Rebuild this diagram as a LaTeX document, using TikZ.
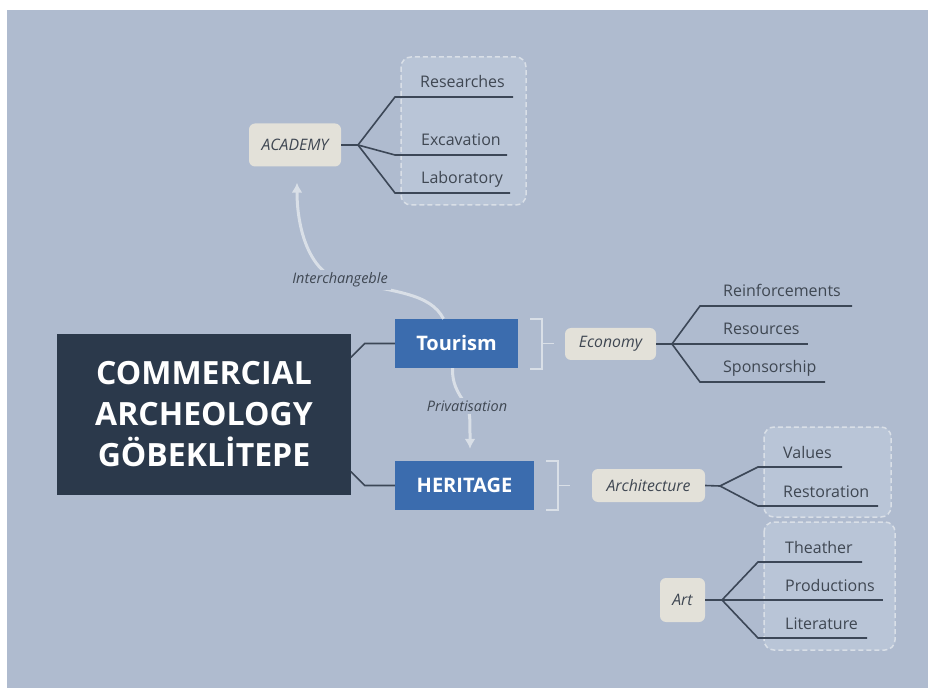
\documentclass[tikz,border=0pt]{standalone}
\usepackage{fontspec}
\setmainfont{Open Sans}
\usetikzlibrary{arrows.meta}
\definecolor{bgblue}{HTML}{AFBBCF}
\definecolor{navy}{HTML}{2B394B}
\definecolor{topicblue}{HTML}{3B6CAE}
\definecolor{sand}{HTML}{E3E1D9}
\definecolor{groupfill}{HTML}{B9C5D7}
\definecolor{paleline}{HTML}{D9DFE7}
\definecolor{inkline}{HTML}{3C4757}
\definecolor{inktext}{HTML}{3F4752}
\begin{document}
\begin{tikzpicture}[x=1pt,y=-1pt,>={Latex[length=10pt,width=11pt]},
  central/.style={fill=navy,text=white,font=\fontsize{32}{41}\selectfont\bfseries,align=center,minimum width=294pt,minimum height=161pt,inner sep=0pt},
  topic/.style={fill=topicblue,text=white,font=\fontsize{20}{22}\selectfont\bfseries,minimum height=49pt,inner sep=0pt},
  sub/.style={fill=sand,rounded corners=6pt,text=inktext,font=\fontsize{15.8}{18}\selectfont\itshape,inner sep=0pt},
  leaf/.style={anchor=base west,text=inktext,font=\fontsize{16}{18}\selectfont,inner sep=0pt},
  link/.style={draw=inkline,line width=1.6pt},
  brace/.style={draw=paleline,line width=1.5pt},
  flow/.style={draw=paleline,line width=3pt,->},
  group/.style={draw=paleline,dash pattern=on 5pt off 3pt,line width=1.5pt,fill=groupfill,rounded corners=10pt},
  note/.style={fill=bgblue,text=inktext,font=\fontsize{14.5}{16}\selectfont\itshape,inner sep=3pt}]
\fill[white] (0,0) rectangle (938,695);
\fill[bgblue] (7,10) rectangle (928,688);
\useasboundingbox (0,0) rectangle (938,695);

% dashed groups
\draw[group] (401,57) rectangle (526,205);
\draw[group] (764,427) rectangle (891,517);
\draw[group] (764,522) rectangle (895,650);

% centre and main topics
\node[central] (core) at (204,414.5) {COMMERCIAL\\ARCHEOLOGY\\GÖBEKLİTEPE};
\node[topic,minimum width=123pt] (tourism) at (456.5,343.5) {Tourism};
\node[topic,minimum width=139pt] (heritage) at (464.5,485.5) {HERITAGE};
\draw[link] (tourism.west) -- ++(-30,0) -- ++(-14,14);
\draw[link] (heritage.west) -- ++(-30,0) -- ++(-14,-14);

% subtopics
\node[sub,minimum width=92pt,minimum height=43pt] (academy) at (295,145) {ACADEMY};
\node[sub,minimum width=91pt,minimum height=32pt] (economy) at (610.5,344) {Economy};
\node[sub,minimum width=113pt,minimum height=33pt] (architecture) at (648.5,485.5) {Architecture};
\node[sub,minimum width=45pt,minimum height=44pt] (art) at (682.5,600) {Art};

% brackets
\draw[brace] ([xshift=12pt]tourism.north east) -- ++(12,0) -- ++(0,50) -- ++(-12,0);
\draw[brace] ([xshift=24pt]tourism.east) -- ++(12,0);
\draw[brace] ([xshift=12pt]heritage.north east) -- ++(12,0) -- ++(0,49) -- ++(-12,0);
\draw[brace] ([xshift=24pt]heritage.east) -- ++(12,0);

% relations
\draw[flow,shorten >=16pt] ([xshift=-13pt]tourism.north) .. controls (430,293) and (395,292) .. (340,280)
  node[note] {Interchangeble}
  .. controls (310,272) and (297,230) .. ([xshift=2pt]academy.south);
\draw[flow,shorten >=12pt] ([xshift=-4pt]tourism.south) .. controls (452,388) and (462,398) .. (467,406)
  node[note] {Privatisation}
  .. controls (470,415) .. ([xshift=5.5pt]heritage.north);

% academy
\coordinate (acadj) at (358,145);
\draw[link] (academy.east) -- (acadj);
\draw[link] (acadj) -- (395,97) -- (513,97);
\draw[link] (acadj) -- (395,155) -- (507,155);
\draw[link] (acadj) -- (395,193) -- (510,193);
\node[leaf] (researches) at (420,88) {Researches};
\node[leaf] (excavation) at (421,146) {Excavation};
\node[leaf] (laboratory) at (421,184) {Laboratory};

% economy
\coordinate (econj) at (672,344);
\draw[link] (economy.east) -- (econj);
\draw[link] (econj) -- (700,306) -- (852,306);
\draw[link] (econj) -- (808,344);
\draw[link] (econj) -- (700,382) -- (825,382);
\node[leaf] (reinforcements) at (723,297) {Reinforcements};
\node[leaf] (resources) at (723,335) {Resources};
\node[leaf] (sponsorship) at (723,373) {Sponsorship};

% architecture
\coordinate (archj) at (720,486);
\draw[link] (architecture.east) -- (archj);
\draw[link] (archj) -- (758,467) -- (842,467);
\draw[link] (archj) -- (758,506) -- (878,506);
\node[leaf] (values) at (783,458) {Values};
\node[leaf] (restoration) at (783,497) {Restoration};

% art
\coordinate (artj) at (722,600);
\draw[link] (art.east) -- (artj);
\draw[link] (artj) -- (758,562) -- (862,562);
\draw[link] (artj) -- (883,600);
\draw[link] (artj) -- (758,638) -- (867,638);
\node[leaf] (theather) at (785,553) {Theather};
\node[leaf] (productions) at (785,591) {Productions};
\node[leaf] (literature) at (785,629) {Literature};
\end{tikzpicture}
\end{document}
